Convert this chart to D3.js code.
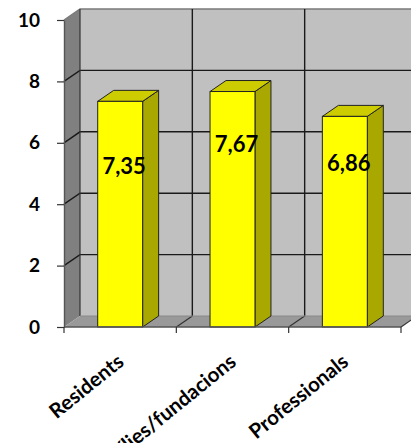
<!DOCTYPE html>
<html><head><meta charset="utf-8">
<script src="https://cdn.jsdelivr.net/npm/d3@7"></script>
<style>html,body{margin:0;padding:0;background:#fff;}svg{display:block;}</style>
</head><body>
<svg id="chart" width="411" height="443"></svg>
<script>
const categories = ["Residents", "Famílies/fundacions", "Professionals"];
const values = [7.35, 7.67, 6.86];
const valueLabels = ["7,35", "7,67", "6,86"];
const yTickValues = [0, 2, 4, 6, 8, 10];
const yTickLabels = ["0", "2", "4", "6", "8", "10"];

// layout
const W = 411, H = 443;
const X0 = 64, X1 = 401, YB = 327, YT = 20;
const DX = 16, DY = -11;
const labelAt = [5.24, 5.96, 5.33]; // vertical placement of value labels (data units)
const FONT = "Lato, 'Open Sans', sans-serif";

const svg = d3.select("#chart");
svg.append("rect").attr("width", W).attr("height", H).attr("fill", "#fff");

const y = d3.scaleLinear().domain([0, 10]).range([YB, YT]);
const x = d3.scaleBand().domain(categories).range([X0, X1]);
const bw = x.bandwidth();
const boundaries = categories.map(c => x(c)).concat([x(categories[categories.length - 1]) + bw]);

const line = d3.line();

// back wall
svg.append("rect").attr("x", X0 + DX).attr("y", y(10) + DY)
  .attr("width", X1 - X0 + 10).attr("height", y(0) - y(10))
  .attr("fill", "#c0c0c0");
// left wall
svg.append("path").attr("d", line([[X0, y(0)], [X0, y(10)], [X0 + DX, y(10) + DY], [X0 + DX, y(0) + DY]]) + "Z")
  .attr("fill", "#808080");
// floor
svg.append("path").attr("d", line([[X0, y(0)], [X1, y(0)], [X1 + DX, y(0) + DY], [X0 + DX, y(0) + DY]]) + "Z")
  .attr("fill", "#999999");

// horizontal gridlines (side wall + back wall)
svg.append("g").selectAll("path").data(yTickValues.filter(t => t > 0)).join("path")
  .attr("d", t => line([[X0, y(t)], [X0 + DX, y(t) + DY], [X1 + DX + 10, y(t) + DY]]))
  .attr("fill", "none")
  .attr("stroke", t => t === 10 ? "#7a7a7a" : "#1a1a1a")
  .attr("stroke-width", 1.4);

// vertical gridlines on back wall and floor
svg.append("g").selectAll("path").data(boundaries.slice(1)).join("path")
  .attr("d", b => line([[b + DX, y(10) + DY], [b + DX, y(0) + DY]]))
  .attr("stroke", "#1a1a1a").attr("stroke-width", 1.4).attr("fill", "none");
svg.append("path").attr("d", line([[X0 + DX, y(10) + DY], [X0 + DX, y(0) + DY]]))
  .attr("stroke", "#333").attr("stroke-width", 1.2);
svg.append("g").selectAll("path").data(boundaries.slice(1)).join("path")
  .attr("d", b => line([[b, y(0)], [b + DX, y(0) + DY]]))
  .attr("stroke", "#333").attr("stroke-width", 1.2).attr("fill", "none");
// floor back edge
svg.append("path").attr("d", line([[X0 + DX, y(0) + DY], [X1 + DX + 10, y(0) + DY]]))
  .attr("stroke", "#8a8a8a").attr("stroke-width", 1);

// bars
const bars = svg.append("g").selectAll("g").data(categories).join("g");
const bx = (c) => x(c) + bw * 0.3;
const bwid = bw * 0.4;
bars.append("path")
  .attr("d", (c, i) => { const xl = bx(c) + bwid, yv = y(values[i]);
    return line([[xl, yv], [xl + DX, yv + DY], [xl + DX, y(0) + DY], [xl, y(0)]]) + "Z"; })
  .attr("fill", "#a8a800").attr("stroke", "#222").attr("stroke-width", 1);
bars.append("path")
  .attr("d", (c, i) => { const xl = bx(c), xr = xl + bwid, yv = y(values[i]);
    return line([[xl, yv], [xl + DX, yv + DY], [xr + DX, yv + DY], [xr, yv]]) + "Z"; })
  .attr("fill", "#cccc00").attr("stroke", "#222").attr("stroke-width", 1);
bars.append("rect")
  .attr("x", c => bx(c)).attr("width", bwid)
  .attr("y", (c, i) => y(values[i])).attr("height", (c, i) => y(0) - y(values[i]))
  .attr("fill", "#ffff00").attr("stroke", "#222").attr("stroke-width", 1);
bars.append("text")
  .attr("x", c => bx(c) + bwid / 2 + 4)
  .attr("y", (c, i) => y(labelAt[i]))
  .attr("dy", "0.36em")
  .attr("text-anchor", "middle")
  .attr("font-family", FONT).attr("font-weight", "bold").attr("font-size", 22)
  .attr("fill", "#000")
  .text((c, i) => valueLabels[i]);

// y axis
const yAxis = d3.axisLeft(y).tickValues(yTickValues)
  .tickFormat((d, i) => yTickLabels[i]).tickSize(7).tickPadding(17).tickSizeOuter(0);
const gy = svg.append("g").attr("transform", `translate(${X0},0)`).call(yAxis);
gy.select(".domain").attr("stroke", "#555").attr("stroke-width", 1.4);
gy.selectAll(".tick line").attr("stroke", "#333").attr("stroke-width", 1.2);
gy.selectAll(".tick text").attr("font-family", FONT).attr("font-weight", "bold")
  .attr("font-size", 19).attr("fill", "#000");

// x axis (front floor edge, ticks at category boundaries)
svg.append("path").attr("d", line([[X0, y(0)], [X1, y(0)]])).attr("stroke", "#555").attr("stroke-width", 1.4);
svg.append("g").selectAll("path").data(boundaries).join("path")
  .attr("d", b => line([[b, y(0)], [b, y(0) + 6]]))
  .attr("stroke", "#333").attr("stroke-width", 1.2);
svg.append("g").selectAll("text").data(categories).join("text")
  .attr("transform", c => `translate(${x(c) + bw / 2 + 5},${y(0) + 37}) rotate(-39)`)
  .attr("text-anchor", "end")
  .attr("font-family", FONT).attr("font-weight", "bold").attr("font-size", 20.5)
  .attr("fill", "#000")
  .text(c => c);
</script>
</body></html>
